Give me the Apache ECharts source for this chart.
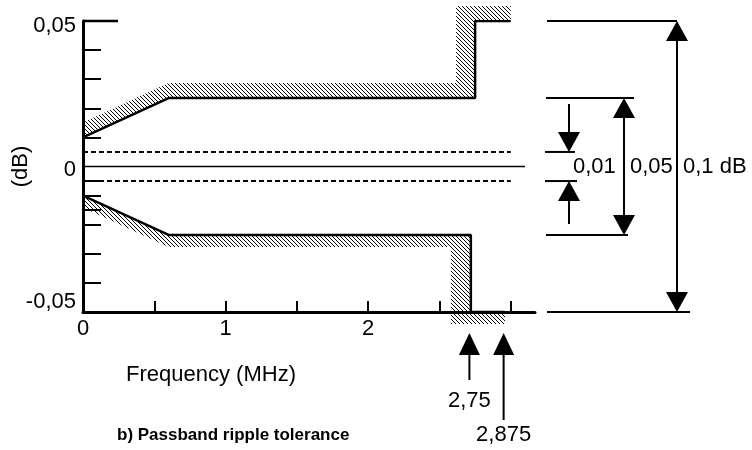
<!DOCTYPE html>
<html><head><meta charset="utf-8">
<script src="https://cdn.jsdelivr.net/npm/echarts@6/dist/echarts.min.js"></script>
<style>html,body{margin:0;padding:0;background:#fff}#chart{width:752px;height:450px}</style>
</head><body><div id="chart"></div>
<script>
// ---------------- data ----------------
const upperLimitFreq = [0, 0.6, 2.75, 2.75, 3.0];
const upperLimitDb   = [0.01, 0.0235, 0.0235, 0.05, 0.05];
const lowerLimitFreq = [0, 0.6, 2.72, 2.72, 2.96];
const lowerLimitDb   = [-0.01, -0.0235, -0.0235, -0.05, -0.05];
const zeroLineFreq   = [0, 3.1];
const zeroLineDb     = [0, 0];
const rippleFreq     = [0, 3.0];
const rippleUpperDb  = [0.005, 0.005];
const rippleLowerDb  = [-0.005, -0.005];
const spanHalfDb     = [0.005, 0.0235, 0.05];
const spanLabels     = ['0,01', '0,05', '0,1 dB'];
const edgeFreq       = [2.71, 2.95];
const edgeLabels     = ['2,75', '2,875'];
const xTickValues    = [0.5, 1, 1.5, 2, 2.5, 3];
const xLabelValues   = [0, 1, 2];
const yTickValues    = [0.05, 0.04, 0.03, 0.02, 0.01, -0.005, -0.01, -0.015, -0.02, -0.03, -0.04];
const yLabelValues   = [0.05, 0, -0.05];
const yMin = -0.05, yMax = 0.05;

// ---------------- helpers ----------------
const FONT = '"Liberation Sans", Arial, sans-serif';
const FS = 22;
function hatchCanvas() {
  const c = document.createElement('canvas');
  c.width = 4; c.height = 4;
  const g = c.getContext('2d');
  g.fillStyle = '#000';
  for (let i = 0; i < 4; i++) g.fillRect(i, i, 1, 1);
  return c;
}
const HATCH = { image: hatchCanvas(), repeat: 'repeat' };

function intersect(a, u, b, v) {
  const cr = u[0] * v[1] - u[1] * v[0];
  if (Math.abs(cr) < 1e-9) return null;
  const t = ((b[0] - a[0]) * v[1] - (b[1] - a[1]) * v[0]) / cr;
  return [a[0] + t * u[0], a[1] + t * u[1]];
}
// shift each segment outward: vertically for flat-ish segments, horizontally for steep ones
function offsetPolyline(pts, side, dx, dy) {
  const segs = [];
  for (let i = 0; i < pts.length - 1; i++) {
    const ux = pts[i + 1][0] - pts[i][0], uy = pts[i + 1][1] - pts[i][1];
    const len = Math.hypot(ux, uy) || 1;
    const u = [ux / len, uy / len];
    const n = side > 0 ? [u[1], -u[0]] : [-u[1], u[0]];
    const o = Math.abs(u[0]) >= Math.abs(u[1]) ? [0, Math.sign(n[1]) * dy] : [Math.sign(n[0]) * dx, 0];
    segs.push({ p: [pts[i][0] + o[0], pts[i][1] + o[1]], u: u, o: o });
  }
  const out = [];
  const first = segs[0];
  out.push(intersect(first.p, first.u, pts[0], [0, 1]) || [pts[0][0] + first.o[0], pts[0][1] + first.o[1]]);
  for (let k = 1; k < pts.length - 1; k++) {
    const a = segs[k - 1], b = segs[k];
    out.push(intersect(a.p, a.u, b.p, b.u) || [pts[k][0] + b.o[0], pts[k][1] + b.o[1]]);
  }
  const last = segs[segs.length - 1], pl = pts[pts.length - 1];
  out.push(intersect(last.p, last.u, pl, [0, 1]) || [pl[0] + last.o[0], pl[1] + last.o[1]]);
  return out;
}
function seg(x1, y1, x2, y2, w) {
  return { type: 'line', shape: { x1: x1, y1: y1, x2: x2, y2: y2 }, style: { stroke: '#000', lineWidth: w } };
}
function tri(x, tipY, dir, w, h) {
  return { type: 'polygon', shape: { points: [[x, tipY], [x - w / 2, tipY - dir * h], [x + w / 2, tipY - dir * h]] }, style: { fill: '#000' } };
}
function txt(s, x, y, align, size, weight) {
  return { type: 'text', style: { text: s, x: x, y: y, font: (weight || 'normal') + ' ' + size + 'px ' + FONT,
    fill: '#000', align: align, verticalAlign: 'middle', textAlign: align, textVerticalAlign: 'middle' } };
}
function pairs(xs, ys) { return xs.map((x, i) => [x, ys[i]]); }
function commaFmt(v) { return String(v).replace('.', ','); }

// ---------------- chart ----------------
const chart = echarts.init(document.getElementById('chart'), null, { renderer: 'canvas' });

const lineBase = { type: 'line', symbol: 'none', showSymbol: false, animation: false, silent: true, z: 3 };

const option = {
  animation: false,
  backgroundColor: '#fff',
  title: {
    text: 'b) Passband ripple tolerance', left: 112, top: 422,
    textStyle: { fontSize: 17, fontWeight: 'bold', fontFamily: FONT, color: '#000' }
  },
  grid: { left: 83, right: 217, top: 21, bottom: 138, containLabel: false, outerBoundsMode: 'none' },
  xAxis: {
    type: 'value', min: 0, max: 3.17,
    axisLine: { show: true, onZero: false, lineStyle: { color: '#000', width: 3 } },
    axisTick: { show: true, inside: true, length: 11, customValues: xTickValues, lineStyle: { color: '#000', width: 2 } },
    axisLabel: { customValues: xLabelValues, margin: 6, color: '#000', fontSize: FS, fontFamily: FONT },
    splitLine: { show: false },
    name: 'Frequency (MHz)', nameLocation: 'middle', nameGap: 52, nameMoveOverlap: false,
    nameTextStyle: { color: '#000', fontSize: FS, fontFamily: FONT, padding: [0, 196, 0, 0] }
  },
  yAxis: {
    type: 'value', min: yMin, max: yMax,
    axisLine: { show: true, onZero: false, lineStyle: { color: '#000', width: 3 } },
    axisTick: { show: true, inside: true, length: 18, customValues: yTickValues, lineStyle: { color: '#000', width: 2 } },
    axisLabel: {
      customValues: yLabelValues, margin: 7, color: '#000', fontSize: FS, fontFamily: FONT,
      formatter: v => v < 0 ? '{lo|' + commaFmt(v) + '}' : (v > 0 ? '{hi|' + commaFmt(v) + '}' : '{mid|' + commaFmt(v) + '}'),
      rich: {
        lo: { fontSize: FS, fontFamily: FONT, color: '#000', padding: [0, 0, 20, 0] },
        mid: { fontSize: FS, fontFamily: FONT, color: '#000', padding: [6, 0, 0, 0] },
        hi: { fontSize: FS, fontFamily: FONT, color: '#000', padding: [9, 0, 0, 0] }
      }
    },
    splitLine: { show: false },
    name: '(dB)', nameLocation: 'middle', nameRotate: 90, nameGap: 51, nameMoveOverlap: false,
    nameTextStyle: { color: '#000', fontSize: FS, fontFamily: FONT }
  },
  series: [
    { // hatched forbidden zones
      type: 'custom', z: 1, silent: true, animation: false,
      data: [[upperLimitFreq[0], upperLimitDb[0]], [lowerLimitFreq[0], lowerLimitDb[0]]],
      renderItem: function (params, api) {
        const up = params.dataIndex === 0;
        const fs = up ? upperLimitFreq : lowerLimitFreq;
        const ds = up ? upperLimitDb : lowerLimitDb;
        const pts = fs.map((f, i) => api.coord([f, ds[i]]));
        const off = up ? offsetPolyline(pts, 1, 19, 15) : offsetPolyline(pts, -1, 20, 12);
        const poly = pts.concat(off.slice().reverse());
        return { type: 'polygon', shape: { points: poly }, style: { fill: HATCH, stroke: null } };
      }
    },
    Object.assign({}, lineBase, { data: pairs(upperLimitFreq, upperLimitDb), lineStyle: { color: '#000', width: 2.5 } }),
    Object.assign({}, lineBase, { data: pairs(lowerLimitFreq, lowerLimitDb), lineStyle: { color: '#000', width: 2.5 } }),
    Object.assign({}, lineBase, { data: pairs(zeroLineFreq, zeroLineDb), lineStyle: { color: '#000', width: 1.5 } }),
    Object.assign({}, lineBase, { data: pairs(rippleFreq, rippleUpperDb), lineStyle: { color: '#000', width: 2, type: [5, 3] } }),
    Object.assign({}, lineBase, { data: pairs(rippleFreq, rippleLowerDb), lineStyle: { color: '#000', width: 2, type: [5, 3] } }),
    { // long top tick on the dB axis
      type: 'custom', z: 4, silent: true, animation: false,
      data: [[0, yMax]],
      renderItem: function (params, api) {
        const p = api.coord([api.value(0), api.value(1)]);
        return seg(p[0], p[1], p[0] + 35, p[1], 2.5);
      }
    },
    { // tolerance span annotations on the right
      type: 'custom', z: 4, silent: true, animation: false,
      data: spanHalfDb.map((v, i) => [i, v]),
      renderItem: function (params, api) {
        const layout = [
          { from: 10, to: 40, toBot: 42, ax: 34, label: 38, inward: true },
          { from: 11, to: 99, toBot: 93, ax: 89, label: 95 },
          { from: 12, to: 142, toBot: 155, ax: 142, label: 148 }
        ];
        const i = params.dataIndex, L = layout[i];
        const cs = params.coordSys, R = cs.x + cs.width;
        const half = api.value(1);
        const yT = api.coord([0, half])[1], yB = api.coord([0, -half])[1], y0 = api.coord([0, 0])[1];
        const ax = R + L.ax;
        const ch = [seg(R + L.from, yT, R + L.to, yT, 2), seg(R + L.from, yB, R + L.toBot, yB, 2)];
        if (L.inward) {
          ch.push(seg(ax, yT - 48, ax, yT - 10, 2), tri(ax, yT, 1, 22, 20));
          ch.push(seg(ax, yB + 43, ax, yB + 10, 2), tri(ax, yB, -1, 22, 20));
        } else {
          ch.push(seg(ax, yT + 10, ax, yB - 10, 2), tri(ax, yT, -1, 22, 20), tri(ax, yB, 1, 22, 20));
        }
        ch.push(txt(spanLabels[i], R + L.label, y0, 'left', FS));
        return { type: 'group', children: ch };
      }
    },
    { // band-edge markers below the frequency axis
      type: 'custom', z: 4, silent: true, animation: false,
      data: edgeFreq.map(f => [f, yMin]),
      renderItem: function (params, api) {
        const i = params.dataIndex;
        const p = api.coord([api.value(0), api.value(1)]);
        const tip = p[1] + 21;
        const tail = [47, 87][i], ly = [68, 102][i];
        return { type: 'group', children: [
          seg(p[0], tip + 10, p[0], tip + tail, 2),
          tri(p[0], tip, -1, 21, 22),
          txt(edgeLabels[i], p[0], tip + ly, 'center', FS)
        ] };
      }
    }
  ]
};
chart.setOption(option);
</script>
</body></html>
